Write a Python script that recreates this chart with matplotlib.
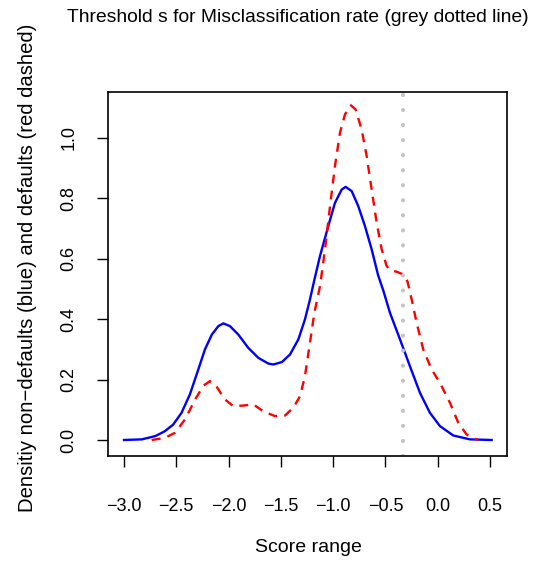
import matplotlib.pyplot as plt

plt.rcParams['font.family'] = ['Liberation Sans', 'DejaVu Sans']

# density of non-defaults (blue solid)
blue_x = [-3.0, -2.83, -2.70, -2.61, -2.53, -2.45, -2.37, -2.29, -2.226, -2.16,
          -2.098, -2.05, -1.987, -1.907, -1.812, -1.716, -1.62, -1.572, -1.49, -1.413,
          -1.333, -1.27, -1.222, -1.18, -1.126, -1.047, -0.983, -0.919, -0.881, -0.823,
          -0.76, -0.696, -0.632, -0.57, -0.521, -0.457, -0.361, -0.266, -0.17, -0.075,
          0.021, 0.148, 0.308, 0.515]
blue_y = [0.0, 0.002, 0.013, 0.029, 0.051, 0.09, 0.151, 0.233, 0.3, 0.349,
          0.377, 0.386, 0.377, 0.349, 0.305, 0.272, 0.253, 0.25, 0.258, 0.283,
          0.333, 0.399, 0.465, 0.53, 0.609, 0.708, 0.785, 0.829, 0.838, 0.824,
          0.774, 0.708, 0.631, 0.545, 0.495, 0.421, 0.333, 0.244, 0.156, 0.09,
          0.046, 0.015, 0.002, 0.0]

# density of defaults (red dashed)
red_x = [-2.735, -2.608, -2.512, -2.417, -2.32, -2.24, -2.178, -2.114, -2.034, -1.955,
         -1.86, -1.764, -1.668, -1.556, -1.46, -1.381, -1.317, -1.27, -1.222, -1.18,
         -1.126, -1.078, -1.03, -0.983, -0.935, -0.887, -0.83, -0.785, -0.728, -0.68,
         -0.632, -0.584, -0.536, -0.49, -0.457, -0.393, -0.33, -0.29, -0.266, -0.202,
         -0.139, -0.058, 0.021, 0.117, 0.196, 0.276, 0.356, 0.388]
red_y = [0.0, 0.007, 0.024, 0.068, 0.134, 0.18, 0.195, 0.176, 0.134, 0.112,
         0.114, 0.118, 0.095, 0.079, 0.081, 0.107, 0.145, 0.211, 0.322, 0.421,
         0.509, 0.631, 0.774, 0.907, 1.017, 1.078, 1.108, 1.094, 1.028, 0.94,
         0.829, 0.719, 0.631, 0.577, 0.562, 0.557, 0.548, 0.525, 0.492, 0.388,
         0.3, 0.233, 0.189, 0.123, 0.057, 0.018, 0.004, 0.0]

threshold = -0.336
x_ticks = [-3.0, -2.5, -2.0, -1.5, -1.0, -0.5, 0.0, 0.5]
y_ticks = [0.0, 0.2, 0.4, 0.6, 0.8, 1.0]

fig = plt.figure(figsize=(5.47, 5.61), dpi=100)
ax = fig.add_axes([108/547, 1 - 456/561, 399/547, 364/561])

ax.plot(blue_x, blue_y, color='blue', lw=1.7, solid_joinstyle='round')
ax.plot(red_x, red_y, color='red', lw=1.7, ls=(0, (3.8, 3.0)))
ax.axvline(threshold, color='#c4c4c4', lw=3.0, ls=(0, (0.01, 3.6)),
           dash_capstyle='round')

ax.set_xlim(-3.153, 0.662)
ax.set_ylim(-0.053, 1.152)
ax.set_xticks(x_ticks)
ax.set_xticklabels([('%.1f' % v).replace('-', '\u2212') for v in x_ticks])
ax.set_yticks(y_ticks)
ax.set_yticklabels(['%.1f' % v for v in y_ticks], rotation=90, va='center')
ax.tick_params(length=8, width=1, labelsize=13, pad=14)
ax.tick_params(axis='x', pad=22)
for s in ax.spines.values():
    s.set_linewidth(1.2)

fig.text(298 / 547, 1 - 18 / 561, 'Threshold s for Misclassification rate (grey dotted line)',
         ha='center', va='center', fontsize=13.9)
fig.text(308 / 547, 1 - 548 / 561, 'Score range', ha='center', va='center', fontsize=14)
fig.text(28 / 547, 1 - 268 / 561, 'Densitiy non\u2212defaults (blue) and defaults (red dashed)',
         ha='center', va='center', rotation=90, fontsize=14.6)

fig.savefig('out.png', dpi=100)
